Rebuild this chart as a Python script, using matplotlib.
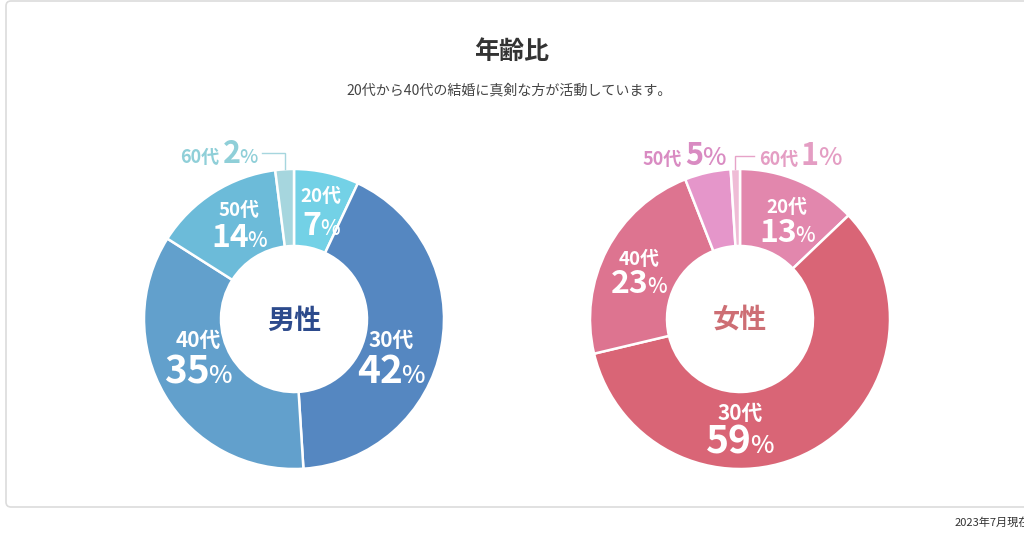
import matplotlib
matplotlib.use('Agg')
import matplotlib.pyplot as plt
from matplotlib.patches import FancyBboxPatch
import numpy as np

plt.rcParams['font.family'] = ['Noto Sans CJK JP', 'DejaVu Sans']

W, H = 1024, 533

# data
ages = ['20代', '30代', '40代', '50代', '60代']
male_pct = [7, 42, 35, 14, 2]
female_pct = [13, 59, 23, 5, 1]
title = '年齢比'
subtitle = '20代から40代の結婚に真剣な方が活動しています。'
note = '2023年7月現在'

male_colors = ['#73d1e6', '#5587c1', '#62a0cc', '#6cbbd9', '#a6d6de']
female_colors = ['#e287ad', '#d96576', '#dd7490', '#e596ca', '#efbcd6']


def Y(y):
    # pixel row (top-down) -> data y (bottom-up)
    return H - y


fig = plt.figure(figsize=(W / 100, H / 100), dpi=100)
ax = fig.add_axes([0, 0, 1, 1])

# card
card = FancyBboxPatch((6, Y(507)), 1060, 506, boxstyle='round,pad=0,rounding_size=5',
                      facecolor='white', edgecolor='#dcdcdc', linewidth=1.2)
ax.add_patch(card)

R, RING = 150, 77
centers = {'male': (294, 319), 'female': (740, 319)}

mw, _ = ax.pie(male_pct, colors=male_colors, startangle=90, counterclock=False,
               center=(centers['male'][0], Y(centers['male'][1])), radius=R,
               wedgeprops=dict(width=RING, edgecolor='white', linewidth=1.8))
fw, _ = ax.pie(female_pct, colors=female_colors, startangle=90, counterclock=False,
               center=(centers['female'][0], Y(centers['female'][1])), radius=R,
               wedgeprops=dict(width=RING, edgecolor='white', linewidth=1.8))

ax.set_xlim(0, W)
ax.set_ylim(0, H)
ax.set_aspect('equal')
ax.axis('off')

renderer = fig.canvas.get_renderer()


def row(pieces, xc, base, color):
    # pieces: (text, size, weight, gap before); laid out left to right, centred on xc
    arts = []
    for s, size, weight, gap in pieces:
        t = ax.text(0, Y(base), s, ha='left', va='baseline', fontsize=size,
                    fontweight=weight, color=color)
        w = t.get_window_extent(renderer).width
        arts.append((t, w, gap))
    total = sum(w + g for _, w, g in arts)
    x = xc - total / 2
    for t, w, g in arts:
        x += g
        t.set_x(x)
        x += w


def inside_label(age, pct, xc, age_y, pct_y, big, small, age_size):
    row([(age, age_size, 'bold', 0)], xc, age_y, 'white')
    row([(str(pct), big, 'bold', 0), ('%', small, 'medium', -1.5)], xc, pct_y, 'white')


def outside_label(age, pct, xc, base, color, big, small):
    row([(age, 13, 'bold', 0), (str(pct), big, 'bold', 3), ('%', small, 'medium', -1)],
        xc, base, color)


# male labels
inside_label(ages[0], male_pct[0], 321, 202, 235, 23, 15, 13.5)
inside_label(ages[1], male_pct[1], 391, 347, 383, 28, 18, 15)
inside_label(ages[2], male_pct[2], 198, 347, 383, 28, 18, 15)
inside_label(ages[3], male_pct[3], 239, 216, 247, 23, 15, 13.5)
outside_label(ages[4], male_pct[4], 219, 163, '#8fcfd8', 22, 14)

# female labels
inside_label(ages[0], female_pct[0], 787, 213, 242, 23, 15, 13.5)
inside_label(ages[1], female_pct[1], 740, 420, 453, 28, 18, 15)
inside_label(ages[2], female_pct[2], 639, 265, 293, 23, 15, 13.5)
outside_label(ages[3], female_pct[3], 684, 165, '#d98bc2', 22, 18)
outside_label(ages[4], female_pct[4], 800, 165, '#e49dc3', 22, 18)


# leader lines for the tiny 60代 slices, from the wedge mid angle
def leader(wedge, cx, cy, y_top, x_end, color):
    mid = np.deg2rad((wedge.theta1 + wedge.theta2) / 2)
    x0 = cx + R * np.cos(mid)
    y0 = Y(cy) + R * np.sin(mid)
    ax.plot([x0, x0, x_end], [y0, Y(y_top), Y(y_top)], color=color, lw=1.0,
            solid_joinstyle='miter')


leader(mw[4], *centers['male'], 153, 262, '#a6d6de')
leader(fw[4], *centers['female'], 156, 754, '#e6a3c8')

# centre labels
ax.text(294, Y(321), '男性', ha='center', va='center', fontsize=19.5,
        fontweight='bold', color='#2c4a8c')
ax.text(740, Y(320), '女性', ha='center', va='center', fontsize=19.5,
        fontweight='bold', color='#cd6e74')

# titles
ax.text(512, Y(52), title, ha='center', va='center', fontsize=18,
        fontweight='bold', color='#333333')
ax.text(509, Y(90), subtitle, ha='center', va='center', fontsize=10.1,
        color='#444444')
ax.text(955, Y(523), note, ha='left', va='center', fontsize=8, color='#333333')

fig.savefig('out.png', dpi=100, facecolor='white')
